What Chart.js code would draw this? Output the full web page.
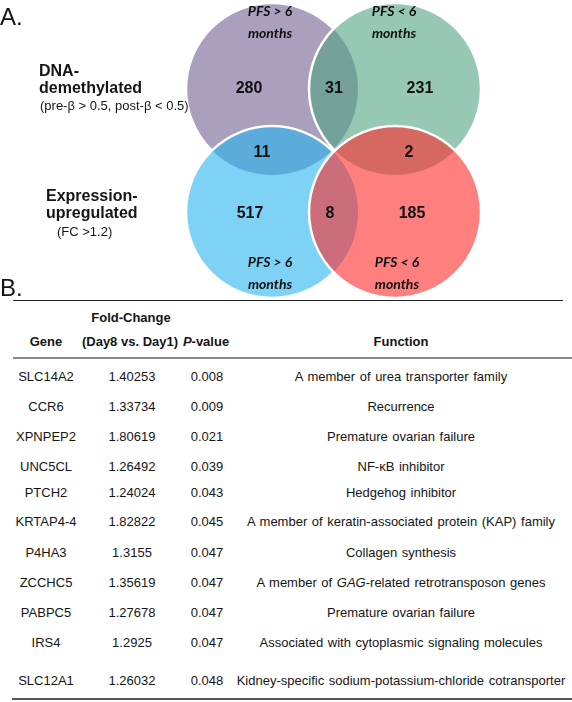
<!DOCTYPE html>
<html><head><meta charset="utf-8">
<script src="https://cdn.jsdelivr.net/npm/chart.js@4/dist/chart.umd.min.js"></script>
<style>
html,body{margin:0;padding:0;background:#fff;}
#page{position:relative;width:572px;height:702px;overflow:hidden;font-family:"Liberation Sans",Arial,sans-serif;color:#151515;}
#venn{position:absolute;left:0;top:0;}
.t{position:absolute;white-space:nowrap;line-height:1.15;transform:translateY(-50%);}
.c{transform:translate(-50%,-50%);}
.b{font-weight:bold;}
.rule{position:absolute;}
</style></head><body><div id="page"><canvas id="venn" width="572" height="300"></canvas></div>
<script>
// ---------- data ----------
const panelLetters = ['A.', 'B.'];
const setNames = [['DNA-', 'demethylated'], ['Expression-', 'upregulated']];
const setCriteria = ['(pre-β > 0.5, post-β < 0.5)', '(FC >1.2)'];
const groupLabels = [['PFS > 6', 'months'], ['PFS < 6', 'months'], ['PFS > 6', 'months'], ['PFS < 6', 'months']];
const circleNames = ['Demethylated, PFS > 6', 'Demethylated, PFS < 6', 'Upregulated, PFS > 6', 'Upregulated, PFS < 6'];
const regionNames = ['Demethylated only (PFS>6)', 'Demethylated both', 'Demethylated only (PFS<6)', 'PFS>6 both', 'PFS<6 both', 'Upregulated only (PFS>6)', 'Upregulated both', 'Upregulated only (PFS<6)'];
const regionCounts = [280, 31, 231, 11, 2, 517, 8, 185];

const tableHeader1 = ['', 'Fold-Change', '', ''];
const tableHeader2 = ['Gene', '(Day8 vs. Day1)', 'P-value', 'Function'];
const genes = ['SLC14A2', 'CCR6', 'XPNPEP2', 'UNC5CL', 'PTCH2', 'KRTAP4-4', 'P4HA3', 'ZCCHC5', 'PABPC5', 'IRS4', 'SLC12A1'];
const foldChanges = ['1.40253', '1.33734', '1.80619', '1.26492', '1.24024', '1.82822', '1.3155', '1.35619', '1.27678', '1.2925', '1.26032'];
const pValues = ['0.008', '0.009', '0.021', '0.039', '0.043', '0.045', '0.047', '0.047', '0.047', '0.047', '0.048'];
const functions = ['A member of urea transporter family', 'Recurrence', 'Premature ovarian failure', 'NF-κB inhibitor', 'Hedgehog inhibitor', 'A member of keratin-associated protein (KAP) family', 'Collagen synthesis', 'A member of GAG-related retrotransposon genes', 'Premature ovarian failure', 'Associated with cytoplasmic signaling molecules', 'Kidney-specific sodium-potassium-chloride cotransporter'];
const italicTerms = ['GAG'];

// ---------- layout (kept apart from data) ----------
const circleGrid = [[0, 1], [1, 1], [0, 0], [1, 0]];
const circleFill = ['rgba(113,97,147,0.6)', 'rgba(80,163,130,0.6)', 'rgba(38,180,238,0.6)', 'rgba(255,42,42,0.6)'];
const regionPos = [[-0.187, 1], [0.504, 1], [1.203, 1], [-0.081, 0.48], [1.114, 0.48], [-0.179, -0.016], [0.472, -0.016], [1.138, -0.016]];
const groupPos = [[-0.016, 1.537], [0.992, 1.537], [-0.016, -0.5], [1.016, -0.5]];
const rowY = [377, 407, 437, 467, 493, 522, 553, 583, 613, 643, 681];
const colX = [46, 132, 207, 401];

// ---------- chart ----------
const vennPlugin = {
  id: 'vennDecor',
  afterDatasetsDraw(chart) {
    const ctx = chart.ctx;
    const circles = chart.getDatasetMeta(0).data;
    const off = document.createElement('canvas');
    off.width = chart.width; off.height = chart.height;
    const o = off.getContext('2d');
    circles.forEach(el => {
      const r = el.options.radius;
      o.globalCompositeOperation = 'destination-out';
      o.beginPath(); o.arc(el.x, el.y, r, 0, Math.PI * 2); o.fill();
      o.globalCompositeOperation = 'source-over';
      o.strokeStyle = '#ffffff'; o.lineWidth = 2.5;
      o.beginPath(); o.arc(el.x, el.y, r, 0, Math.PI * 2); o.stroke();
    });
    ctx.drawImage(off, 0, 0);
    ctx.save();
    ctx.fillStyle = '#111';
    ctx.textAlign = 'center';
    ctx.textBaseline = 'middle';
    ctx.font = 'bold 16px "Liberation Sans", Arial, sans-serif';
    chart.getDatasetMeta(1).data.forEach((el, i) => ctx.fillText(String(regionCounts[i]), el.x, el.y));
    ctx.font = 'italic bold 14px Lato, "Open Sans", sans-serif';
    chart.getDatasetMeta(2).data.forEach((el, i) => {
      ctx.fillText(groupLabels[i][0], el.x, el.y - 11);
      ctx.fillText(groupLabels[i][1], el.x, el.y + 11);
    });
    ctx.restore();
  }
};

new Chart(document.getElementById('venn'), {
  type: 'bubble',
  data: {
    datasets: [
      { label: 'sets', data: circleGrid.map((p, i) => ({ x: p[0], y: p[1], name: circleNames[i] })), backgroundColor: circleFill, borderWidth: 0, radius: 86, hoverRadius: 0, clip: false },
      { label: 'regions', data: regionPos.map((p, i) => ({ x: p[0], y: p[1], name: regionNames[i] })), backgroundColor: 'rgba(0,0,0,0)', borderWidth: 0, radius: 0, clip: false },
      { label: 'groups', data: groupPos.map(p => ({ x: p[0], y: p[1] })), backgroundColor: 'rgba(0,0,0,0)', borderWidth: 0, radius: 0, clip: false }
    ]
  },
  options: {
    responsive: false, animation: false, devicePixelRatio: 1, events: [],
    layout: { padding: 0, autoPadding: false },
    plugins: { legend: { display: false }, tooltip: { enabled: false } },
    scales: {
      x: { type: 'linear', display: false, min: -2.2114, max: 2.439 },
      y: { type: 'linear', display: false, min: -0.7154, max: 1.7236 }
    }
  },
  plugins: [vennPlugin]
});

// ---------- text & table ----------
const page = document.getElementById('page');
function put(html, x, y, cls, style) {
  const d = document.createElement('div');
  d.className = 't ' + (cls || '');
  d.style.left = x + 'px'; d.style.top = y + 'px';
  if (style) d.style.cssText += style;
  d.innerHTML = html;
  page.appendChild(d);
  return d;
}
function rule(x, y, w, h, col) {
  const d = document.createElement('div');
  d.className = 'rule';
  d.style.cssText = `left:${x}px;top:${y}px;width:${w}px;height:${h}px;background:${col};`;
  page.appendChild(d);
}
function esc(s) { return s.replace(/&/g, '&amp;').replace(/</g, '&lt;').replace(/>/g, '&gt;'); }

put(panelLetters[0], 0, 17, '', 'font-size:24px;');
put(panelLetters[1], 0, 288, '', 'font-size:24px;');
put(setNames[0][0], 39, 71, 'b', 'font-size:16px;');
put(setNames[0][1], 39, 88, 'b', 'font-size:16px;');
put(esc(setCriteria[0]), 40, 106, '', 'font-size:13px;');
put(setNames[1][0], 46, 196, 'b', 'font-size:16px;');
put(setNames[1][1], 46, 213, 'b', 'font-size:16px;');
put(esc(setCriteria[1]), 57, 232, '', 'font-size:13px;');

rule(13, 300, 550, 1, '#222');
rule(13, 357, 559, 2, '#8a8a8a');
rule(12, 698, 560, 2, '#555');

put(tableHeader1[1], 131, 318, 'c b', 'font-size:13px;');
put(tableHeader2[0], colX[0], 342, 'c b', 'font-size:13px;');
put(tableHeader2[1], 130, 342, 'c b', 'font-size:13px;');
put('<i>' + tableHeader2[2].slice(0, 1) + '</i>' + tableHeader2[2].slice(1), 206, 342, 'c b', 'font-size:13px;');
put(tableHeader2[3], colX[3], 342, 'c b', 'font-size:13px;');

function fmtFn(s) {
  let h = esc(s);
  italicTerms.forEach(t => { h = h.split(t).join('<i>' + t + '</i>'); });
  return h;
}
genes.forEach((g, i) => {
  const y = rowY[i];
  put(g, colX[0], y, 'c', 'font-size:13px;');
  put(foldChanges[i], colX[1], y, 'c', 'font-size:13px;');
  put(pValues[i], colX[2], y, 'c', 'font-size:13px;');
  put(fmtFn(functions[i]), colX[3], y, 'c', 'font-size:13px;word-spacing:1px;');
});
</script></body></html>
